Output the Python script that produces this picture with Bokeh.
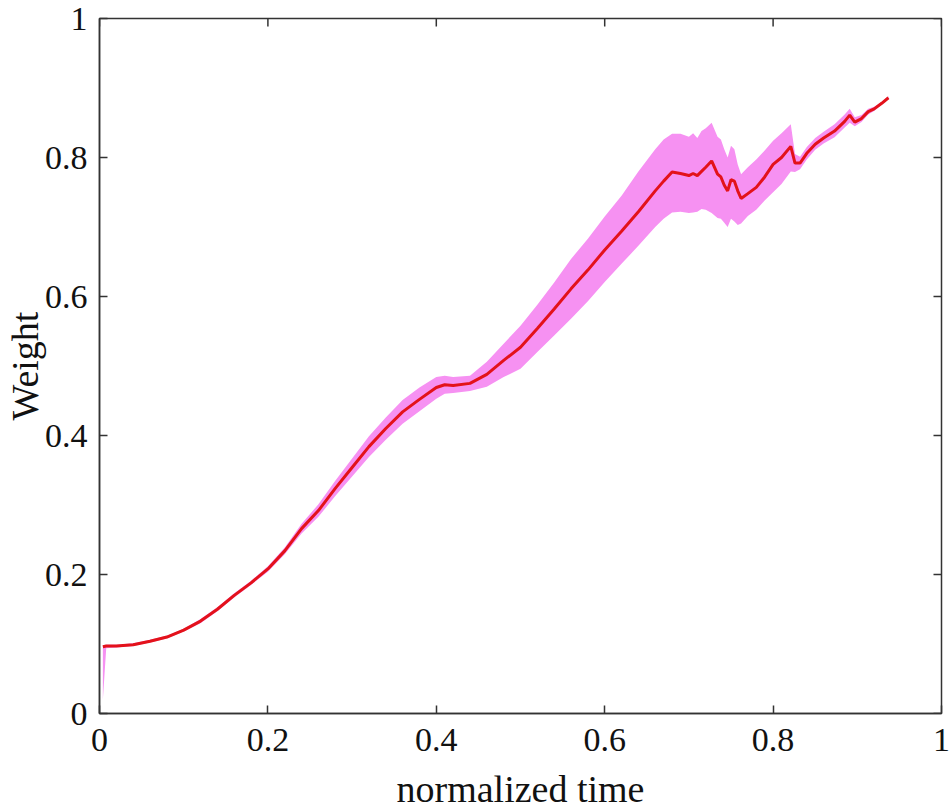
import math
from bokeh.plotting import figure
from bokeh.models import FixedTicker, Range1d
from bokeh.embed import file_html
from bokeh.resources import INLINE

# ---- data ----
t = [0.004, 0.008, 0.02, 0.04, 0.06, 0.08, 0.10, 0.12, 0.14, 0.16, 0.18, 0.20,
     0.22, 0.24, 0.26, 0.28, 0.30, 0.32, 0.34, 0.36, 0.38, 0.40, 0.41, 0.42,
     0.44, 0.46, 0.48, 0.50, 0.52, 0.54, 0.56, 0.58, 0.60, 0.62, 0.64, 0.66,
     0.67, 0.68, 0.69, 0.70, 0.705, 0.71, 0.715, 0.72, 0.727, 0.734, 0.738,
     0.742, 0.746, 0.750, 0.754, 0.758, 0.762, 0.77, 0.78, 0.79, 0.80, 0.81,
     0.821, 0.826, 0.832, 0.84, 0.85, 0.86, 0.873, 0.885, 0.891, 0.897, 0.905,
     0.913, 0.92, 0.929, 0.937]
weight_mean = [0.096, 0.097, 0.097, 0.099, 0.104, 0.110, 0.120, 0.133, 0.150, 0.170, 0.188, 0.208,
               0.234, 0.266, 0.292, 0.324, 0.354, 0.384, 0.410, 0.434, 0.452, 0.469, 0.473, 0.472,
               0.475, 0.488, 0.508, 0.527, 0.554, 0.582, 0.611, 0.638, 0.667, 0.694, 0.722, 0.752,
               0.766, 0.779, 0.777, 0.774, 0.777, 0.774, 0.780, 0.786, 0.795, 0.776, 0.772,
               0.760, 0.752, 0.768, 0.766, 0.752, 0.741, 0.748, 0.757, 0.772, 0.790, 0.800,
               0.816, 0.792, 0.792, 0.806, 0.819, 0.828, 0.838, 0.852, 0.861, 0.851, 0.856,
               0.866, 0.870, 0.878, 0.886]
weight_low = [0.020, 0.094, 0.095, 0.097, 0.102, 0.108, 0.118, 0.130, 0.147, 0.167, 0.185, 0.204,
              0.229, 0.259, 0.283, 0.313, 0.341, 0.369, 0.394, 0.417, 0.435, 0.453, 0.460, 0.461,
              0.464, 0.470, 0.484, 0.496, 0.520, 0.544, 0.568, 0.593, 0.621, 0.647, 0.673, 0.700,
              0.712, 0.721, 0.722, 0.720, 0.721, 0.722, 0.726, 0.725, 0.720, 0.713, 0.712,
              0.706, 0.700, 0.712, 0.708, 0.703, 0.705, 0.716, 0.725, 0.738, 0.750, 0.762,
              0.780, 0.779, 0.783, 0.797, 0.811, 0.820, 0.829, 0.843, 0.850, 0.845, 0.851,
              0.862, 0.867, 0.876, 0.884]
weight_high = [0.098, 0.099, 0.099, 0.101, 0.106, 0.112, 0.122, 0.136, 0.153, 0.173, 0.191, 0.212,
               0.239, 0.273, 0.301, 0.335, 0.367, 0.399, 0.426, 0.451, 0.469, 0.484, 0.486, 0.484,
               0.486, 0.506, 0.532, 0.558, 0.588, 0.620, 0.654, 0.683, 0.715, 0.745, 0.780, 0.812,
               0.826, 0.834, 0.834, 0.830, 0.835, 0.828, 0.838, 0.842, 0.850, 0.830, 0.826,
               0.812, 0.800, 0.817, 0.812, 0.790, 0.776, 0.786, 0.797, 0.810, 0.824, 0.835,
               0.848, 0.805, 0.801, 0.815, 0.828, 0.837, 0.848, 0.862, 0.870, 0.858, 0.861,
               0.870, 0.873, 0.880, 0.888]

tick_values = [0, 0.2, 0.4, 0.6, 0.8, 1]
tick_labels = ["0", "0.2", "0.4", "0.6", "0.8", "1"]
x_title = "normalized time"
y_title = "Weight"

FONT = "Liberation Serif"
AX = "#333333"

p = figure(width=950, height=812, x_range=Range1d(0, 1), y_range=Range1d(0, 1),
           output_backend="svg", toolbar_location=None,
           min_border_left=99, min_border_right=9, min_border_top=18, min_border_bottom=0,
           x_axis_label=x_title, y_axis_label=y_title)
p.background_fill_color = "white"
p.border_fill_color = "white"
p.grid.visible = False
p.outline_line_color = AX
p.outline_line_width = 1.5

p.varea(x=t, y1=weight_low, y2=weight_high, fill_color="#f691f2", fill_alpha=1.0)
p.line(t, weight_mean, line_color="#e3121a", line_width=3)

# inward ticks on the top and right edges of the box (half of each dash is clipped by the frame)
n = len(tick_values)
p.scatter(x=[1.0] * n, y=tick_values, marker="dash", size=16,
          line_color=AX, line_width=1.5)
p.scatter(x=tick_values, y=[1.0] * n, marker="dash", size=16, angle=math.pi / 2,
          line_color=AX, line_width=1.5)

overrides = dict(zip(tick_values, tick_labels))
for ax in (p.xaxis[0], p.yaxis[0]):
    ax.ticker = FixedTicker(ticks=tick_values)
    ax.minor_tick_line_color = None
    ax.major_tick_in = 8
    ax.major_tick_out = 0
    ax.major_tick_line_color = AX
    ax.major_tick_line_width = 1.5
    ax.axis_line_color = AX
    ax.axis_line_width = 1.5
    ax.major_label_overrides = overrides
    ax.major_label_text_font = FONT
    ax.major_label_text_font_size = "34px"
    ax.major_label_text_color = "#111111"
    ax.axis_label_text_font = FONT
    ax.axis_label_text_font_size = "38px"
    ax.axis_label_text_font_style = "normal"
    ax.axis_label_text_color = "#111111"
p.yaxis[0].major_label_standoff = 12
p.yaxis[0].axis_label_standoff = -4
p.xaxis[0].major_label_standoff = 15
p.xaxis[0].axis_label_standoff = 14

open("out.html", "w").write(file_html(p, INLINE))
